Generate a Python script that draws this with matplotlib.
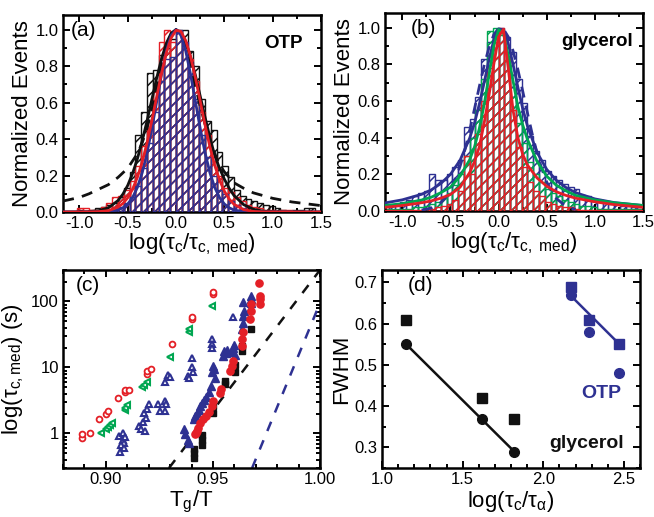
import numpy as np
import matplotlib
matplotlib.use("Agg")
import matplotlib.pyplot as plt
from matplotlib.ticker import MultipleLocator, FixedLocator, LogLocator, NullFormatter

plt.rcParams['font.family'] = ['Liberation Sans', 'DejaVu Sans']
plt.rcParams['mathtext.fontset'] = 'custom'
plt.rcParams['mathtext.rm'] = 'Liberation Sans'
plt.rcParams['mathtext.it'] = 'Liberation Sans:italic'
plt.rcParams['mathtext.default'] = 'regular'
plt.rcParams['hatch.linewidth'] = 1.1

RED = '#e41f26'
BLUE = '#2e3192'
GREEN = '#00a651'
BLACK = '#111111'

# ---------------- histogram data (bin width 0.06, first bin left edge -1.2)
bin_start = -1.2
bin_w = 0.06
otp_black = [0, 0, 0, 0.01, 0.0, 0.01, 0.02, 0.03, 0.04, 0.05, 0.08, 0.13, 0.22, 0.42, 0.55,
             0.76, 0.78, 0.86, 0.90, 0.95, 1.0, 1.0, 0.88, 0.80, 0.62, 0.50, 0.45, 0.33, 0.25,
             0.19, 0.12, 0.09, 0.07, 0.06, 0.05, 0.04, 0.035, 0.02, 0.01, 0.0, 0.01, 0.01, 0.02, 0.02, 0.0]
otp_red = [0, 0, 0, 0.02, 0.02, 0.01, 0.01, 0.03, 0.05, 0.08, 0.09, 0.12, 0.17, 0.25, 0.36,
           0.50, 0.66, 0.93, 1.0, 0.93, 0.99, 0.90, 0.84, 0.72, 0.55, 0.42, 0.30, 0.20, 0.13,
           0.11, 0.08, 0.06, 0.04, 0.03, 0.02, 0.01, 0.01, 0.0, 0.01, 0.01, 0, 0, 0, 0, 0]
otp_blue = [0, 0, 0, 0, 0, 0, 0, 0.005, 0.01, 0.02, 0.03, 0.05, 0.08, 0.14, 0.24,
            0.38, 0.55, 0.72, 0.84, 0.85, 1.0, 0.93, 0.82, 0.62, 0.42, 0.30, 0.20, 0.12, 0.10,
            0.06, 0.04, 0.02, 0.01, 0, 0, 0, 0, 0, 0, 0, 0, 0, 0, 0, 0]
gly_blue = [0.03, 0.03, 0.04, 0.05, 0.06, 0.08, 0.10, 0.11, 0.20, 0.17, 0.17, 0.20, 0.24, 0.28, 0.46,
            0.50, 0.62, 0.83, 0.92, 0.97, 1.0, 0.95, 0.87, 0.72, 0.59, 0.41, 0.33, 0.28, 0.22,
            0.19, 0.17, 0.15, 0.13, 0.12, 0.09, 0.08, 0.06, 0.06, 0.05, 0.04, 0.04, 0.03, 0.03, 0.02, 0.02]
gly_green = [0.01, 0.01, 0.01, 0.01, 0.01, 0.02, 0.02, 0.03, 0.04, 0.05, 0.07, 0.10, 0.14, 0.20, 0.30,
             0.40, 0.55, 0.72, 0.98, 1.0, 0.96, 0.82, 0.62, 0.48, 0.37, 0.27, 0.20, 0.16, 0.12,
             0.10, 0.08, 0.06, 0.05, 0.04, 0.03, 0.03, 0.02, 0.01, 0.01, 0.01, 0.01, 0.01, 0.01, 0.01, 0.01]
gly_red = [0.005, 0.005, 0.005, 0.005, 0.005, 0.005, 0.005, 0.01, 0.01, 0.02, 0.03, 0.04, 0.06, 0.11, 0.30,
           0.20, 0.42, 0.60, 0.78, 0.92, 1.0, 0.86, 0.55, 0.35, 0.24, 0.16, 0.11, 0.08, 0.05,
           0.04, 0.03, 0.02, 0.02, 0.01, 0.005, 0.005, 0.005, 0.005, 0.005, 0.005, 0.005, 0.005, 0.005, 0.005, 0.005]

# ---------------- fit curves
xa = [-1.17, -1.0, -0.9, -0.8, -0.7, -0.6, -0.55, -0.5, -0.45, -0.4, -0.35, -0.3, -0.25, -0.2,
      -0.15, -0.1, -0.05, 0.0, 0.05, 0.1, 0.15, 0.2, 0.25, 0.3, 0.35, 0.4, 0.45, 0.5, 0.55, 0.6,
      0.7, 0.8, 0.9, 1.0, 1.2, 1.5]
otp_black_fit = [0.0, 0.0005, 0.002, 0.007, 0.023, 0.063, 0.098, 0.146, 0.211, 0.292, 0.390, 0.50,
                 0.618, 0.735, 0.841, 0.926, 0.981, 1.0, 0.981, 0.93, 0.85, 0.75, 0.635, 0.52, 0.41,
                 0.31, 0.24, 0.18, 0.13, 0.09, 0.04, 0.015, 0.005, 0.001, 0.0, 0.0]
otp_red_fit = [0.0, 0.0, 0.0005, 0.002, 0.0075, 0.027, 0.047, 0.078, 0.125, 0.19, 0.275, 0.38,
               0.503, 0.633, 0.761, 0.873, 0.955, 0.996, 0.99, 0.94, 0.853, 0.737, 0.607, 0.477,
               0.358, 0.256, 0.175, 0.114, 0.071, 0.042, 0.013, 0.003, 0.0007, 0.0, 0.0, 0.0]
otp_blue_fit = [0.0, 0.0, 0.0, 0.0, 0.002, 0.011, 0.023, 0.044, 0.079, 0.135, 0.216, 0.325, 0.458,
                0.607, 0.755, 0.883, 0.969, 1.0, 0.969, 0.883, 0.755, 0.607, 0.458, 0.325, 0.216,
                0.135, 0.079, 0.044, 0.023, 0.011, 0.002, 0.0, 0.0, 0.0, 0.0, 0.0]
otp_black_dash = [0.06, 0.08, 0.10, 0.125, 0.15, 0.19, 0.215, 0.24, 0.28, 0.32, 0.38, 0.46, 0.56,
                  0.68, 0.80, 0.90, 0.97, 1.0, 0.97, 0.90, 0.80, 0.69, 0.58, 0.48, 0.39, 0.32,
                  0.26, 0.22, 0.19, 0.16, 0.13, 0.105, 0.09, 0.075, 0.055, 0.035]

xb = [-1.18, -1.0, -0.8, -0.7, -0.6, -0.5, -0.4, -0.3, -0.25, -0.2, -0.15, -0.1, -0.05, 0.0,
      0.05, 0.1, 0.15, 0.2, 0.25, 0.3, 0.4, 0.5, 0.6, 0.7, 0.8, 1.0, 1.2, 1.5]
gly_blue_fit = [0.044, 0.061, 0.091, 0.115, 0.15, 0.20, 0.277, 0.398, 0.48, 0.583, 0.70, 0.824,
                0.932, 0.994, 0.987, 0.914, 0.80, 0.676, 0.56, 0.463, 0.319, 0.227, 0.167, 0.128,
                0.10, 0.066, 0.046, 0.030]
gly_green_fit = [0.03, 0.04, 0.06, 0.075, 0.10, 0.13, 0.19, 0.28, 0.35, 0.45, 0.58, 0.74, 0.90,
                 0.99, 0.97, 0.85, 0.71, 0.57, 0.47, 0.39, 0.27, 0.19, 0.14, 0.11, 0.085, 0.06,
                 0.045, 0.03]
gly_red_fit = [0.02, 0.03, 0.045, 0.055, 0.07, 0.09, 0.13, 0.21, 0.27, 0.35, 0.48, 0.63, 0.80,
               0.95, 0.99, 0.78, 0.55, 0.40, 0.31, 0.25, 0.18, 0.135, 0.105, 0.085, 0.07, 0.05,
               0.035, 0.02]
xbd = [-0.8, -0.7, -0.6, -0.55, -0.5, -0.45, -0.4, -0.35, -0.3, -0.25, -0.2, -0.15, -0.1, -0.05,
       0.0, 0.05, 0.1, 0.15, 0.2, 0.25, 0.3, 0.35, 0.4, 0.45, 0.5, 0.55, 0.6, 0.7, 0.8]
gly_blue_dash = [0.005, 0.016, 0.046, 0.074, 0.115, 0.171, 0.244, 0.334, 0.44, 0.558, 0.679, 0.794,
                 0.891, 0.961, 0.997, 0.993, 0.95, 0.874, 0.772, 0.655, 0.534, 0.418, 0.315,
                 0.228, 0.158, 0.106, 0.068, 0.025, 0.008]

# ---------------- panel (c) data
c_red_open_x = [0.889, 0.889, 0.8925, 0.897, 0.900, 0.901, 0.9057, 0.909, 0.909, 0.911, 0.919,
                0.919, 0.921, 0.9307, 0.940, 0.940, 0.950, 0.950]
c_red_open_y = [0.86, 0.97, 1.02, 1.67, 1.95, 2.18, 3.4, 4.2, 4.5, 4.6, 7.9, 8.7, 9.4, 22.6, 54,
                59, 128, 138]
c_green_x = [0.8977, 0.9003, 0.901, 0.902, 0.903, 0.9088, 0.909, 0.910, 0.917, 0.918, 0.919,
             0.930, 0.939, 0.939, 0.9494]
c_green_y = [1.0, 1.15, 1.25, 1.35, 1.45, 2.25, 2.45, 2.7, 5.1, 5.5, 6.0, 14.5, 35, 38, 84]
c_blue_open_x = [0.906, 0.908, 0.9087, 0.907, 0.9084, 0.9064, 0.908, 0.909,
                 0.9157, 0.9162, 0.9185, 0.9173, 0.9189, 0.918, 0.9192, 0.920,
                 0.9243, 0.9251, 0.9277, 0.9277, 0.928,
                 0.9274, 0.929, 0.9298,
                 0.940, 0.940, 0.9408, 0.9385, 0.939,
                 0.9494, 0.9494, 0.9494, 0.9592]
c_blue_open_y = [0.91, 0.81, 0.72, 0.66, 0.61, 0.52, 1.02, 0.9,
                 1.29, 1.18, 1.08, 1.49, 1.73, 2.02, 2.32, 2.76,
                 2.83, 2.18, 3.1, 2.18, 2.76,
                 6.04, 7.6, 7.3,
                 13.8, 10.0, 8.4, 7.4, 6.9,
                 26.7, 22.7, 19.6, 57.6]
c_blue_fill_x = [0.9365, 0.937, 0.9385, 0.939, 0.941, 0.9418, 0.9424, 0.9435, 0.944, 0.945, 0.946,
                 0.947, 0.948, 0.949, 0.9495, 0.950, 0.9505, 0.9512, 0.9548, 0.955, 0.956, 0.9565,
                 0.959, 0.9595, 0.960, 0.9603, 0.9635, 0.964, 0.9642, 0.9645, 0.964, 0.9673,
                 0.968, 0.968, 0.9678]
c_blue_fill_y = [1.15, 0.97, 0.81, 0.72, 1.63, 1.85, 2.06, 2.3, 2.6, 2.9, 3.2, 3.6, 4.2, 5.2, 8.5,
                 10.6, 9.5, 7.0, 15.0, 17.9, 16.5, 18.5, 17.0, 19.5, 22, 15.5, 38, 48, 60, 72, 98,
                 77, 95, 110, 123]
c_red_fill_x = [0.9416, 0.942, 0.9424, 0.9431, 0.9442, 0.9455, 0.9467, 0.9483, 0.9494, 0.9501,
                0.9533, 0.954, 0.958, 0.9587, 0.9595, 0.9634, 0.9634, 0.9642, 0.9673, 0.9676,
                0.968, 0.972, 0.972, 0.972, 0.9717]
c_red_fill_y = [0.97, 1.02, 1.08, 1.22, 1.42, 1.63, 1.83, 2.11, 2.6, 3.1, 4.16, 4.67, 8.9, 10.6,
                12.6, 21.3, 26.9, 34, 54.5, 72.6, 91.8, 92, 110, 123, 190]
c_black_x = [0.941, 0.941, 0.941, 0.9447, 0.9447, 0.9447, 0.950, 0.950, 0.9556, 0.9556, 0.9603,
             0.9603, 0.9634, 0.9634, 0.968]
c_black_y = [0.42, 0.5, 0.58, 0.68, 0.8, 0.95, 2.06, 2.6, 5.6, 6.3, 8.4, 11, 17.9, 21.3, 38]
c_black_line_x = [0.9295, 1.0]
c_black_line_y = [0.3, 300]
c_blue_line_x = [0.9683, 1.0]
c_blue_line_y = [0.3, 95]

# ---------------- panel (d) data
d_gly_x = [1.15, 1.62, 1.82]
d_gly_sq = [0.61, 0.42, 0.37]
d_gly_ci = [0.55, 0.37, 0.29]
d_otp_x = [2.17, 2.285, 2.47]
d_otp_sq = [0.69, 0.61, 0.55]
d_otp_ci = [0.67, 0.58, 0.48]
d_gly_line_x = [1.15, 1.82]
d_gly_line_y = [0.55, 0.29]
d_otp_line_x = [2.17, 2.47]
d_otp_line_y = [0.668, 0.551]

TICK_FS = 12
LAB_FS = 16

fig = plt.figure(figsize=(6.54, 5.17), dpi=100)
W, H = 654.0, 517.0
def axes_px(l, t, r, b):
    return fig.add_axes([l / W, 1 - b / H, (r - l) / W, (b - t) / H])

ax_a = axes_px(63, 15, 321, 212)
ax_b = axes_px(385, 13, 643, 211)
ax_c = axes_px(63, 270, 320, 468)
ax_d = axes_px(382, 270, 640, 468)

def style(ax):
    for s in ax.spines.values():
        s.set_linewidth(1.8)
    ax.tick_params(which='both', direction='in', top=True, right=True, labelsize=TICK_FS,
                   width=1.4, pad=3)
    ax.tick_params(which='major', length=5)
    ax.tick_params(which='minor', length=3)

def hist(ax, heights, color, z):
    lefts = bin_start + bin_w * np.arange(len(heights))
    ax.bar(lefts, heights, width=bin_w, align='edge', fill=False, edgecolor=color,
           hatch='///', linewidth=1.0, zorder=z)

# ---------------- (a)
hist(ax_a, otp_black, BLACK, 1)
hist(ax_a, otp_red, RED, 2)
hist(ax_a, otp_blue, BLUE, 3)
ax_a.plot(xa, otp_black_dash, color=BLACK, lw=2.0, dashes=(4, 3), zorder=5)
ax_a.plot(xa, otp_black_fit, color=BLACK, lw=2.0, zorder=5)
ax_a.plot(xa, otp_blue_fit, color=BLUE, lw=2.0, zorder=6)
ax_a.plot(xa, otp_red_fit, color=RED, lw=2.0, zorder=7)
ax_a.set_xlim(-1.17, 1.5)
ax_a.set_ylim(0, 1.08)
ax_a.text(0.03, 0.97, '(a)', transform=ax_a.transAxes, fontsize=15, va='top', ha='left')
ax_a.text(0.93, 0.90, 'OTP', transform=ax_a.transAxes, fontsize=13.5, fontweight='bold',
          va='top', ha='right')

# ---------------- (b)
hist(ax_b, gly_blue, BLUE, 1)
hist(ax_b, gly_green, GREEN, 2)
hist(ax_b, gly_red, RED, 3)
ax_b.plot(xbd, gly_blue_dash, color=BLUE, lw=2.0, dashes=(4, 3), zorder=5)
ax_b.plot(xb, gly_blue_fit, color=BLUE, lw=2.0, zorder=5)
ax_b.plot(xb, gly_green_fit, color=GREEN, lw=2.0, zorder=6)
ax_b.plot(xb, gly_red_fit, color=RED, lw=2.0, zorder=7)
ax_b.set_xlim(-1.18, 1.5)
ax_b.set_ylim(0, 1.08)
ax_b.text(0.1, 0.97, '(b)', transform=ax_b.transAxes, fontsize=15, va='top', ha='left')
ax_b.text(0.96, 0.90, 'glycerol', transform=ax_b.transAxes, fontsize=13.5, fontweight='bold',
          va='top', ha='right')

for ax in (ax_a, ax_b):
    style(ax)
    ax.xaxis.set_major_locator(MultipleLocator(0.5))
    ax.xaxis.set_minor_locator(MultipleLocator(0.25))
    ax.yaxis.set_major_locator(MultipleLocator(0.2))
    ax.yaxis.set_minor_locator(MultipleLocator(0.1))
    ax.xaxis.set_major_formatter(matplotlib.ticker.FormatStrFormatter('%.1f'))
    ax.yaxis.set_major_formatter(matplotlib.ticker.FormatStrFormatter('%.1f'))
    ax.set_ylabel('Normalized Events', fontsize=LAB_FS, labelpad=2)
    ax.set_xlabel('log(τ$_c$/τ$_{c,\\ med}$)', fontsize=LAB_FS, labelpad=0)

# ---------------- (c)
ax_c.set_yscale('log')
ax_c.plot(c_black_line_x, c_black_line_y, color=BLACK, lw=1.8, dashes=(4, 4), zorder=2)
ax_c.plot(c_blue_line_x, c_blue_line_y, color=BLUE, lw=1.8, dashes=(4, 4), zorder=2)
ax_c.plot(c_red_open_x, c_red_open_y, 'o', ms=4.2, mfc='white', mec=RED, mew=1.3, ls='none', zorder=3)
ax_c.plot(c_green_x, c_green_y, '<', ms=5, mfc='white', mec=GREEN, mew=1.5, ls='none', zorder=3)
ax_c.plot(c_blue_open_x, c_blue_open_y, '^', ms=5, mfc='white', mec=BLUE, mew=1.5, ls='none', zorder=3)
ax_c.plot(c_black_x, c_black_y, 's', ms=5, color=BLACK, ls='none', zorder=3)
ax_c.plot(c_blue_fill_x, c_blue_fill_y, '^', ms=5.5, color=BLUE, ls='none', zorder=4)
ax_c.plot(c_red_fill_x, c_red_fill_y, 'o', ms=5.2, color=RED, ls='none', zorder=5)
ax_c.set_xlim(0.88, 1.0)
ax_c.set_ylim(0.3, 300)
style(ax_c)
ax_c.xaxis.set_major_locator(FixedLocator([0.90, 0.95, 1.00]))
ax_c.xaxis.set_minor_locator(MultipleLocator(0.01))
ax_c.xaxis.set_major_formatter(matplotlib.ticker.FormatStrFormatter('%.2f'))
ax_c.yaxis.set_major_locator(FixedLocator([1, 10, 100]))
ax_c.yaxis.set_major_formatter(matplotlib.ticker.FixedFormatter(['1', '10', '100']))
ax_c.yaxis.set_minor_locator(LogLocator(base=10, subs=np.arange(2, 10)))
ax_c.yaxis.set_minor_formatter(NullFormatter())
ax_c.set_ylabel('log(τ$_{c,med}$) (s)', fontsize=LAB_FS, labelpad=4)
ax_c.set_xlabel('T$_g$/T', fontsize=LAB_FS, labelpad=1)
ax_c.text(0.05, 0.97, '(c)', transform=ax_c.transAxes, fontsize=15, va='top', ha='left')

# ---------------- (d)
ax_d.plot(d_gly_line_x, d_gly_line_y, color=BLACK, lw=1.8, zorder=2)
ax_d.plot(d_otp_line_x, d_otp_line_y, color=BLUE, lw=1.8, zorder=2)
ax_d.plot(d_gly_x, d_gly_sq, 's', ms=7, color=BLACK, ls='none', zorder=3)
ax_d.plot(d_gly_x, d_gly_ci, 'o', ms=7, color=BLACK, ls='none', zorder=3)
ax_d.plot(d_otp_x, d_otp_sq, 's', ms=7, color=BLUE, ls='none', zorder=3)
ax_d.plot(d_otp_x, d_otp_ci, 'o', ms=7, color=BLUE, ls='none', zorder=3)
ax_d.set_xlim(1.0, 2.6)
ax_d.set_ylim(0.25, 0.73)
style(ax_d)
ax_d.xaxis.set_major_locator(MultipleLocator(0.5))
ax_d.xaxis.set_minor_locator(MultipleLocator(0.1))
ax_d.yaxis.set_major_locator(MultipleLocator(0.1))
ax_d.yaxis.set_minor_locator(MultipleLocator(0.05))
ax_d.xaxis.set_major_formatter(matplotlib.ticker.FormatStrFormatter('%.1f'))
ax_d.yaxis.set_major_formatter(matplotlib.ticker.FormatStrFormatter('%.1f'))
ax_d.set_ylabel('FWHM', fontsize=LAB_FS, labelpad=2)
ax_d.set_xlabel('log(τ$_c$/τ$_α$)', fontsize=LAB_FS, labelpad=1)
ax_d.text(0.1, 0.97, '(d)', transform=ax_d.transAxes, fontsize=15, va='top', ha='left')
ax_d.text(2.36, 0.43, 'OTP', color=BLUE, fontsize=14, fontweight='bold', ha='center', va='center')
ax_d.text(2.5, 0.31, 'glycerol', color=BLACK, fontsize=14, fontweight='bold', ha='right', va='center')

fig.savefig('out.png', dpi=100)
